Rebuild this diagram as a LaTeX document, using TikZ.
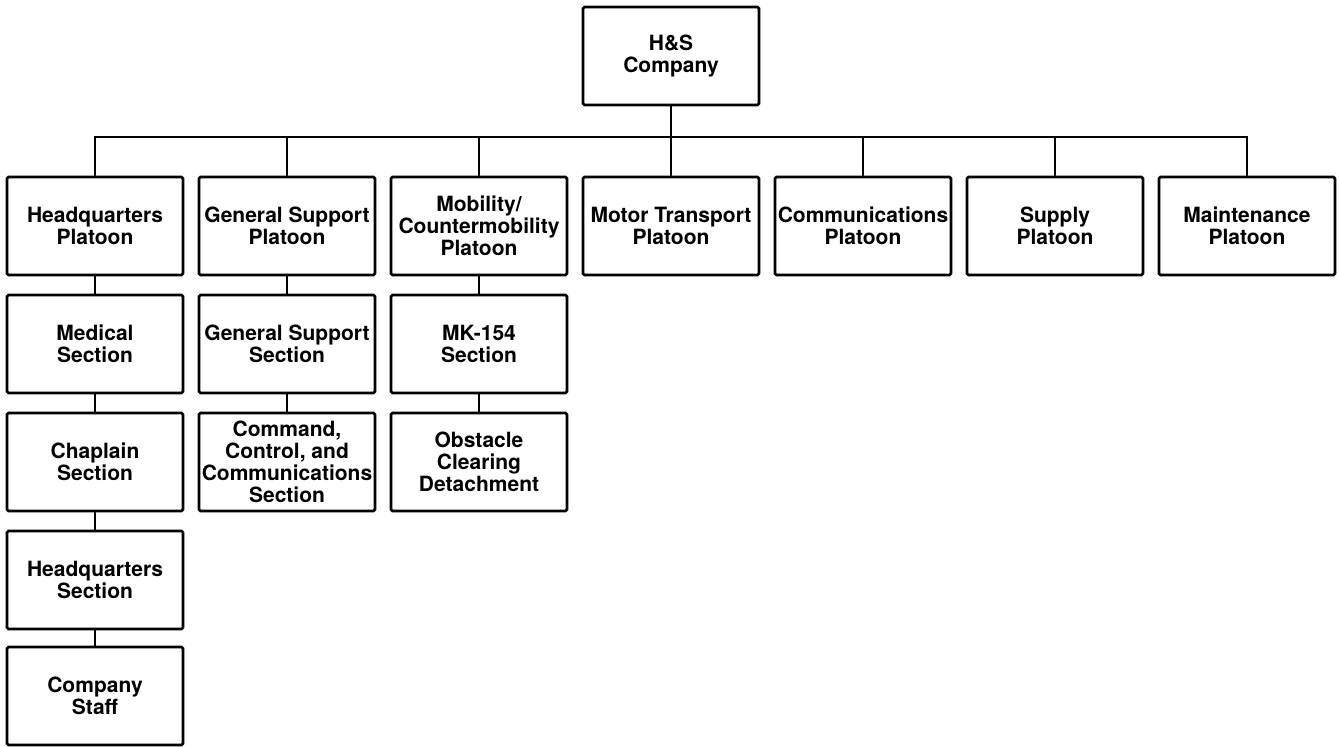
\documentclass[tikz,border=0pt]{standalone}
\usepackage{fontspec}
\setmainfont{TeX Gyre Heros}
\begin{document}
\begin{tikzpicture}[x=1pt, y=-1pt,
    unit/.style={rectangle, draw, line width=2.6pt, rounded corners=1.5pt,
      minimum width=176pt, minimum height=98pt, inner sep=0pt, align=center,
      font=\fontsize{21}{22}\selectfont\bfseries},
    link/.style={line width=2.6pt}]
    \useasboundingbox (0,0) rectangle (1339,747);

        % Company box
        \node (hs) [unit] at (671,56) {H\&S\\Company};

        % Platoons
        \node (hqp) [unit] at (95,226) {Headquarters\\Platoon};
        \node (gsp) [unit] at (287,226) {General Support\\Platoon};
        \node (mcp) [unit] at (479,226) {Mobility/\\Countermobility\\Platoon};
        \node (mtp) [unit] at (671,226) {Motor Transport\\Platoon};
        \node (cmp) [unit] at (863,226) {Communications\\Platoon};
        \node (sup) [unit] at (1055,226) {Supply\\Platoon};
        \node (mnt) [unit] at (1247,226) {Maintenance\\Platoon};

        % Sections
        \node (med) [unit] at (95,344) {Medical\\Section};
        \node (chap) [unit] at (95,462) {Chaplain\\Section};
        \node (hqs) [unit] at (95,580) {Headquarters\\Section};
        \node (staff) [unit] at (95,696) {Company\\Staff};
        \node (gss) [unit] at (287,344) {General Support\\Section};
        \node (ccc) [unit] at (287,462) {Command,\\Control, and\\Communications\\Section};
        \node (mk) [unit] at (479,344) {MK-154\\Section};
        \node (ocd) [unit] at (479,462) {Obstacle\\Clearing\\Detachment};

        % Edges
        \coordinate (bus) at (671,137);
        \draw[link] (hs.south) -- (bus);
        \foreach \n in {hqp,gsp,mcp,mtp,cmp,sup,mnt}
            \draw[link] (bus) -| (\n.north);
        \draw[link] (hqp) -- (med);
        \draw[link] (med) -- (chap);
        \draw[link] (chap) -- (hqs);
        \draw[link] (hqs) -- (staff);
        \draw[link] (gsp) -- (gss);
        \draw[link] (gss) -- (ccc);
        \draw[link] (mcp) -- (mk);
        \draw[link] (mk) -- (ocd);

    \end{tikzpicture}
\end{document}
